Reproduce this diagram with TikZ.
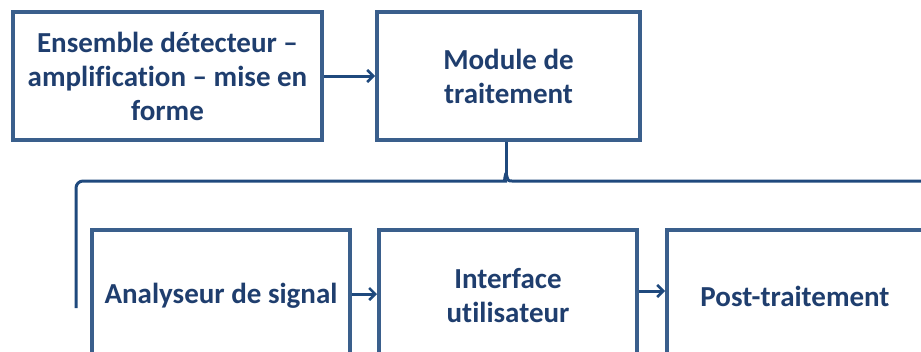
\documentclass[tikz,border=0pt]{standalone}
\usepackage{fontspec}
\setmainfont[Ligatures=NoCommon]{Carlito}
\usetikzlibrary{arrows.meta}
\definecolor{txtblue}{RGB}{31,62,110}
\definecolor{boxblue}{RGB}{58,95,140}
\definecolor{linkblue}{RGB}{31,73,125}
\tikzset{
  blk/.style={draw=boxblue, line width=4pt, fill=white, align=center,
    text=txtblue, font=\bfseries\fontsize{29}{34}\selectfont, inner sep=0pt},
  link/.style={draw=linkblue, line width=3pt},
  arr/.style={link, -{Straight Barb[length=6pt,width=12pt,line width=2.5pt]}}
}
\begin{document}
\begin{tikzpicture}[x=1pt,y=-1pt]
\useasboundingbox (0,0) rectangle (921,351);
\clip (0,0) rectangle (921,351);
\node[blk, minimum width=309pt, minimum height=128pt] (det) at (167.5,76)
  {Ensemble détecteur –\\amplification – mise en\\forme};
\node[blk, minimum width=263pt, minimum height=128pt] (mod) at (508.5,76)
  {Module de\\traitement};
\node[blk, minimum width=258pt, minimum height=132pt] (ana) at (221,296)
  {Analyseur de signal};
\node[blk, minimum width=258pt, minimum height=132pt] (int) at (508,296)
  {Interface\\utilisateur};
\node[blk, minimum width=300pt, minimum height=132pt] (post) at (817,296)
  {\hspace*{-44pt}Post-traitement};
\coordinate (bl) at (76,308);
\coordinate (br) at (930,181);
\draw[arr] (det.east) -- (mod.west);
\draw[arr] ([yshift=2pt]ana.east) -- ([yshift=2pt]int.west);
\draw[arr] ([yshift=5pt]int.east) -- ([yshift=5pt]post.west);
\draw[link, rounded corners=7pt] (bl) -- (76,181) -- (500,181)
  .. controls (504,181) .. (506,173);
\draw[link] (506,173) .. controls (508,181) .. (512,181) -- (br);
\draw[link] (mod.south -| 506,0) -- (506,176);
\end{tikzpicture}
\end{document}
